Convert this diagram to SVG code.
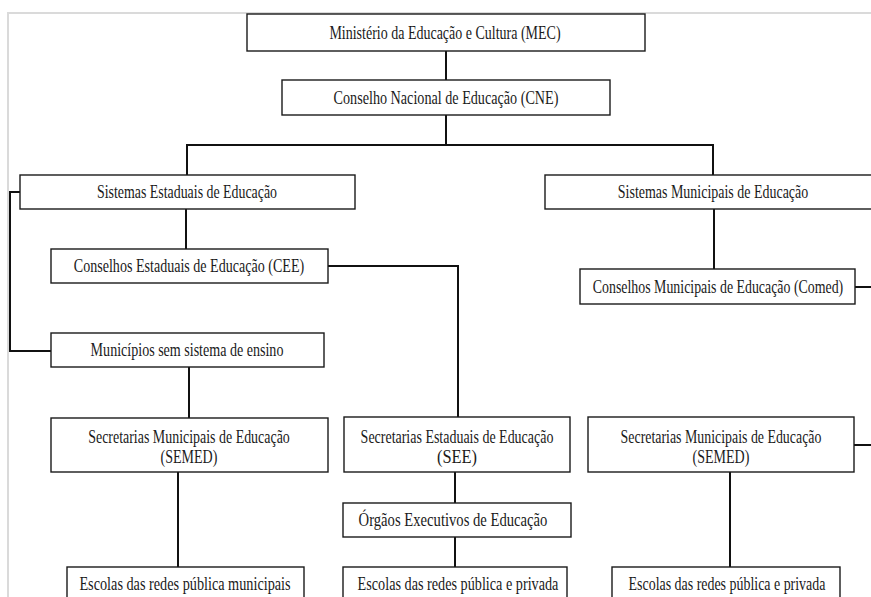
<svg xmlns="http://www.w3.org/2000/svg" width="871" height="597" viewBox="0 0 871 597">
<style>
.box{fill:#fff;stroke:#1a1a1a;stroke-width:1.4}
.t{font-family:'Liberation Serif','Times New Roman',serif;font-size:18px;fill:#1a1a1a;text-anchor:middle;dominant-baseline:central}
.c{fill:none;stroke:#111;stroke-width:2}
.frame{fill:none;stroke:#dadada;stroke-width:2}
</style>
<rect width="871" height="597" fill="#fff"/>
<path class="frame" d="M8,597 V13 H871"/>
<g id="connectors">
<path class="c" d="M446,51 V80"/>
<path class="c" d="M446,115 V145"/>
<path class="c" d="M187,175 V145 H713 V175"/>
<path class="c" d="M186,209 V249"/>
<path class="c" d="M328,266 H458 V417"/>
<path class="c" d="M20,192 H10 V351 H51"/>
<path class="c" d="M189,367 V418"/>
<path class="c" d="M178,472 V567"/>
<path class="c" d="M455,472 V503"/>
<path class="c" d="M455,537 V567"/>
<path class="c" d="M714,209 V269"/>
<path class="c" d="M855,287 H871"/>
<path class="c" d="M854,445 H871"/>
<path class="c" d="M730,472 V567"/>
</g>
<g id="mec"><rect class="box" x="247" y="14" width="398" height="37"/><text class="t" transform="translate(445,33) scale(0.8,1)" textLength="289" lengthAdjust="spacingAndGlyphs">Ministério da Educação e Cultura (MEC)</text></g>
<g id="cne"><rect class="box" x="282" y="80" width="328" height="35"/><text class="t" transform="translate(446,98) scale(0.8,1)" textLength="281" lengthAdjust="spacingAndGlyphs">Conselho Nacional de Educação (CNE)</text></g>
<g id="see-sistemas"><rect class="box" x="20" y="175" width="335" height="34"/><text class="t" transform="translate(187,192) scale(0.8,1)" textLength="225" lengthAdjust="spacingAndGlyphs">Sistemas Estaduais de Educação</text></g>
<g id="sme-sistemas"><rect class="box" x="545" y="175" width="340" height="34"/><text class="t" transform="translate(713,192) scale(0.8,1)" textLength="238" lengthAdjust="spacingAndGlyphs">Sistemas Municipais de Educação</text></g>
<g id="cee"><rect class="box" x="51" y="249" width="277" height="34"/><text class="t" transform="translate(189,266) scale(0.8,1)" textLength="288" lengthAdjust="spacingAndGlyphs">Conselhos Estaduais de Educação (CEE)</text></g>
<g id="comed"><rect class="box" x="580" y="269" width="275" height="35"/><text class="t" transform="translate(718,287) scale(0.8,1)" textLength="313" lengthAdjust="spacingAndGlyphs">Conselhos Municipais de Educação (Comed)</text></g>
<g id="municipios"><rect class="box" x="51" y="333" width="273" height="34"/><text class="t" transform="translate(187,350) scale(0.8,1)" textLength="241" lengthAdjust="spacingAndGlyphs">Municípios sem sistema de ensino</text></g>
<g id="semed-l"><rect class="box" x="51" y="418" width="277" height="54"/><text class="t" transform="translate(189,437) scale(0.8,1)" textLength="252" lengthAdjust="spacingAndGlyphs">Secretarias Municipais de Educação</text><text class="t" transform="translate(189,457) scale(0.8,1)" textLength="71" lengthAdjust="spacingAndGlyphs">(SEMED)</text></g>
<g id="see"><rect class="box" x="344" y="417" width="226" height="55"/><text class="t" transform="translate(457,437) scale(0.8,1)" textLength="241" lengthAdjust="spacingAndGlyphs">Secretarias Estaduais de Educação</text><text class="t" transform="translate(457,457) scale(0.8,1)" textLength="50" lengthAdjust="spacingAndGlyphs">(SEE)</text></g>
<g id="semed-r"><rect class="box" x="588" y="417" width="266" height="55"/><text class="t" transform="translate(721,437) scale(0.8,1)" textLength="251" lengthAdjust="spacingAndGlyphs">Secretarias Municipais de Educação</text><text class="t" transform="translate(721,457) scale(0.8,1)" textLength="71" lengthAdjust="spacingAndGlyphs">(SEMED)</text></g>
<g id="orgaos"><rect class="box" x="343" y="503" width="228" height="34"/><text class="t" transform="translate(453,520) scale(0.8,1)" textLength="236" lengthAdjust="spacingAndGlyphs">Órgãos Executivos de Educação</text></g>
<g id="escolas-l"><rect class="box" x="67" y="567" width="237" height="40"/><text class="t" transform="translate(185,584) scale(0.8,1)" textLength="264" lengthAdjust="spacingAndGlyphs">Escolas das redes pública municipais</text></g>
<g id="escolas-m"><rect class="box" x="343" y="567" width="224" height="40"/><text class="t" transform="translate(458,584) scale(0.8,1)" textLength="251" lengthAdjust="spacingAndGlyphs">Escolas das redes pública e  privada</text></g>
<g id="escolas-r"><rect class="box" x="612" y="567" width="228" height="40"/><text class="t" transform="translate(727,584) scale(0.8,1)" textLength="246" lengthAdjust="spacingAndGlyphs">Escolas das redes pública e privada</text></g>
</svg>
